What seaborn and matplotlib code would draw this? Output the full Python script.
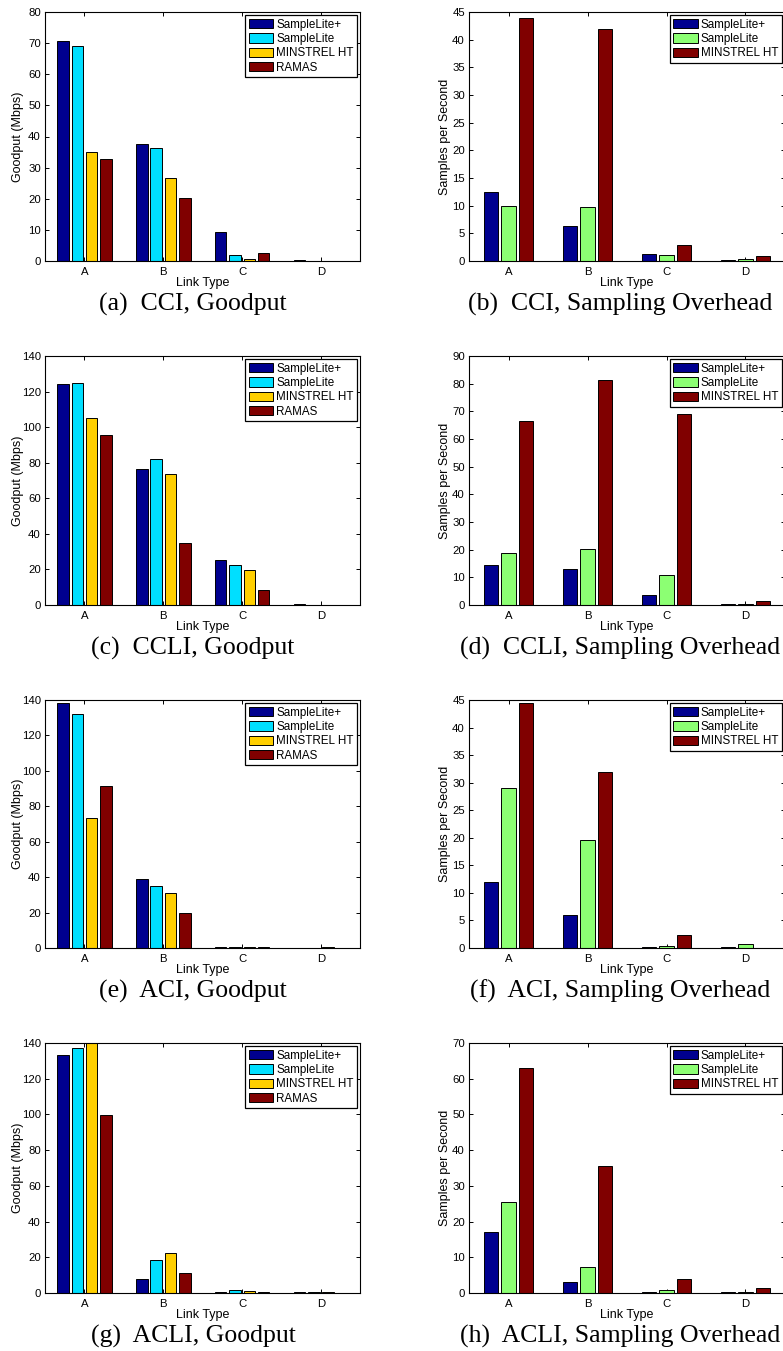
import numpy as np
import pandas as pd
import matplotlib
matplotlib.use("Agg")
import matplotlib.pyplot as plt
import seaborn as sns

# ---- data -------------------------------------------------------------
links = ["A", "B", "C", "D"]
goodput_algos = ["SampleLite+", "SampleLite", "MINSTREL HT", "RAMAS"]
sampling_algos = ["SampleLite+", "SampleLite", "MINSTREL HT"]

# one row per algorithm, one column per link type
cci_goodput = [[70.6, 37.7, 9.4, 0.2],
               [69.0, 36.2, 2.0, 0.1],
               [35.0, 26.7, 0.7, 0.1],
               [32.8, 20.4, 2.6, 0.1]]
cci_samples = [[12.5, 6.4, 1.3, 0.1],
               [10.0, 9.7, 1.0, 0.3],
               [43.9, 42.0, 2.9, 0.95]]
ccli_goodput = [[124.3, 76.5, 25.1, 0.7],
                [125.0, 82.3, 22.4, 0.2],
                [105.2, 73.9, 19.5, 0.2],
                [95.8, 35.0, 8.4, 0.2]]
ccli_samples = [[14.3, 13.0, 3.6, 0.3],
                [18.8, 20.3, 10.7, 0.3],
                [66.4, 81.2, 68.9, 1.4]]
aci_goodput = [[138.5, 38.9, 0.3, 0.1],
               [132.3, 35.0, 0.3, 0.1],
               [73.2, 31.0, 0.4, 0.3],
               [91.2, 19.8, 0.8, 0.1]]
aci_samples = [[12.0, 6.0, 0.15, 0.25],
               [29.0, 19.6, 0.35, 0.75],
               [44.4, 31.9, 2.4, 0.05]]
acli_goodput = [[133.3, 7.7, 0.7, 0.4],
                [137.0, 18.3, 1.8, 0.3],
                [140.0, 22.3, 1.3, 0.3],
                [99.8, 11.0, 0.5, 0.2]]
acli_samples = [[17.2, 3.2, 0.3, 0.2],
                [25.6, 7.4, 0.9, 0.35],
                [63.0, 35.6, 4.0, 1.4]]

captions = ["(a)  CCI, Goodput", "(b)  CCI, Sampling Overhead",
            "(c)  CCLI, Goodput", "(d)  CCLI, Sampling Overhead",
            "(e)  ACI, Goodput", "(f)  ACI, Sampling Overhead",
            "(g)  ACLI, Goodput", "(h)  ACLI, Sampling Overhead"]

goodput_colors = ["#00008F", "#00DFFF", "#FFCF00", "#800000"]
sampling_colors = ["#00008F", "#8CFF73", "#800000"]

# ---- style --------------------------------------------------------------
sns.set_theme(style="white")
plt.rcParams.update({
    "font.family": ["Liberation Sans", "DejaVu Sans"],
    "xtick.direction": "in", "ytick.direction": "in",
    "xtick.top": True, "ytick.right": True,
    "xtick.bottom": True, "ytick.left": True,
    "xtick.major.size": 2.6, "ytick.major.size": 2.6,
    "xtick.major.width": 0.7, "ytick.major.width": 0.7,
    "xtick.major.pad": 4.0, "ytick.major.pad": 3.0,
    "xtick.labelsize": 8.2, "ytick.labelsize": 8.2,
    "axes.labelsize": 9, "axes.edgecolor": "black",
    "axes.linewidth": 0.8, "text.color": "black",
    "axes.labelcolor": "black", "xtick.color": "black", "ytick.color": "black",
})

W, H = 783, 1351
fig = plt.figure(figsize=(W / 100, H / 100), dpi=100)

# panel geometry in pixels: (top, bottom) for each row, (left, right) per column
rows = [(12, 261), (356, 605), (700, 948), (1043, 1293)]
cols = [(45, 360.5), (469, 785)]
caption_x = [193, 620]


def draw_panel(row, col, values, algos, colors, ymax, ystep, ylabel, caption):
    top, bot = rows[row]
    left, right = cols[col]
    ax = fig.add_axes([left / W, 1 - bot / H, (right - left) / W, (bot - top) / H])

    df = pd.DataFrame({
        "Link Type": np.tile(links, len(algos)),
        "Algorithm": np.repeat(algos, len(links)),
        "Value": np.ravel(values),
    })
    n = len(algos)
    sns.barplot(data=df, x="Link Type", y="Value", hue="Algorithm",
                order=links, hue_order=algos, palette=colors, saturation=1,
                width=n / (n + 1.5), gap=0.2, errorbar=None,
                edgecolor="black", linewidth=0.7, ax=ax)

    ax.set_xlim(-0.5, 3.5)
    ax.set_ylim(0, ymax)
    ax.set_yticks(np.arange(0, ymax + 0.01, ystep))
    ax.set_xlabel("Link Type", labelpad=0.5)
    ax.set_ylabel(ylabel)
    ax.yaxis.label.set_verticalalignment("center")
    ax.yaxis.set_label_coords((18 if col == 0 else 445) / (right - left)
                              - left / (right - left), 0.5)
    for s in ax.spines.values():
        s.set_visible(True)
        s.set_color("black")
        s.set_linewidth(0.8)

    sns.move_legend(ax, "upper right", title=None, frameon=True,
                    fancybox=False, framealpha=1, edgecolor="black",
                    fontsize=8.4, handlelength=2.1, handleheight=0.85,
                    handletextpad=0.25, labelspacing=0.2, borderpad=0.3,
                    borderaxespad=0.28)
    leg = ax.get_legend()
    leg.get_frame().set_linewidth(0.9)
    for h in leg.legend_handles:
        h.set_edgecolor("black")
        h.set_linewidth(0.7)

    fig.text(caption_x[col] / W, 1 - (bot + 50) / H, caption,
             ha="center", va="baseline", fontsize=18.5,
             family=["Liberation Serif", "DejaVu Serif"])
    return ax


draw_panel(0, 0, cci_goodput, goodput_algos, goodput_colors, 80, 10,
           "Goodput (Mbps)", captions[0])
draw_panel(0, 1, cci_samples, sampling_algos, sampling_colors, 45, 5,
           "Samples per Second", captions[1])
draw_panel(1, 0, ccli_goodput, goodput_algos, goodput_colors, 140, 20,
           "Goodput (Mbps)", captions[2])
draw_panel(1, 1, ccli_samples, sampling_algos, sampling_colors, 90, 10,
           "Samples per Second", captions[3])
draw_panel(2, 0, aci_goodput, goodput_algos, goodput_colors, 140, 20,
           "Goodput (Mbps)", captions[4])
draw_panel(2, 1, aci_samples, sampling_algos, sampling_colors, 45, 5,
           "Samples per Second", captions[5])
draw_panel(3, 0, acli_goodput, goodput_algos, goodput_colors, 140, 20,
           "Goodput (Mbps)", captions[6])
draw_panel(3, 1, acli_samples, sampling_algos, sampling_colors, 70, 10,
           "Samples per Second", captions[7])

fig.savefig("out.png", dpi=100, facecolor="white")
